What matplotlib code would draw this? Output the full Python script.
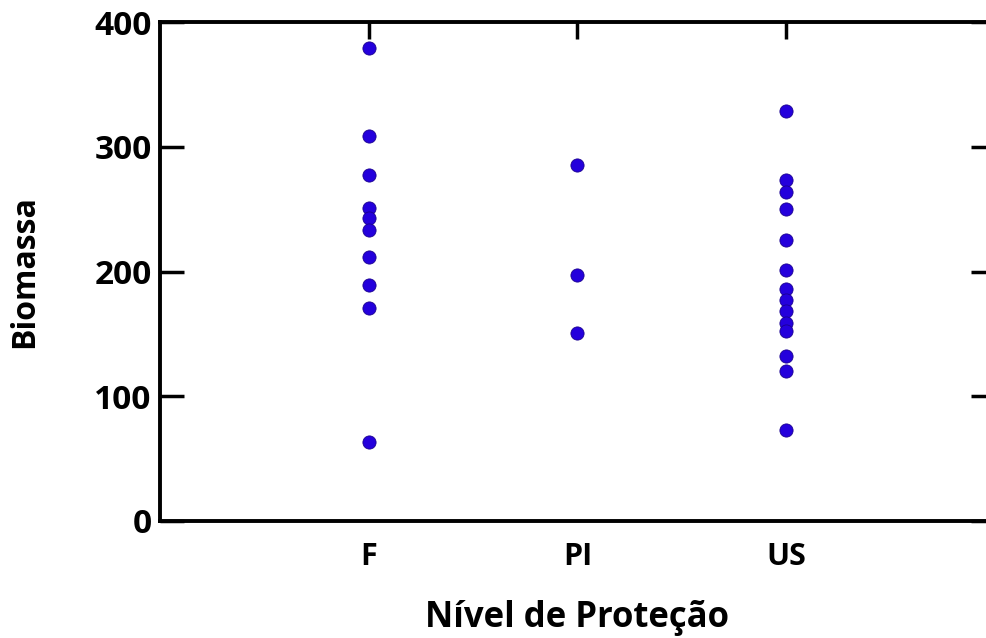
import matplotlib.pyplot as plt

# biomass per protection level
categories = ["F", "PI", "US"]
biomassa_f = [379, 309, 277, 251, 243, 233, 212, 189, 171, 63]
biomassa_pi = [285, 197, 151]
biomassa_us = [329, 273, 264, 250, 225, 201, 186, 177, 168, 159, 152, 132, 120, 73]
y_ticks = [0, 100, 200, 300, 400]

groups = [biomassa_f, biomassa_pi, biomassa_us]

plt.rcParams['font.family'] = ['Open Sans', 'DejaVu Sans']

fig = plt.figure(figsize=(9.87, 6.38), dpi=100)
ax = fig.add_axes([0.162, 0.1834, 0.846, 0.7821])

for i, vals in enumerate(groups, start=1):
    ax.scatter([i] * len(vals), vals, s=90, color="#2400dc",
               edgecolor="#1a0090", linewidth=0.6, zorder=3, clip_on=False)

ax.set_xlim(0, 4)
ax.set_ylim(0, 400)
ax.set_xticks([1, 2, 3])
ax.set_xticklabels(categories, fontsize=22, fontweight="bold")
ax.set_yticks(y_ticks)
ax.set_yticklabels([str(v) for v in y_ticks], fontsize=24, fontweight="bold")

for s in ax.spines.values():
    s.set_linewidth(2.8)

ax.tick_params(axis="y", direction="in", length=17, width=2.5,
               left=True, right=True, pad=6)
ax.tick_params(axis="x", direction="in", length=12, width=2.5,
               top=True, bottom=False, pad=15)

ax.set_xlabel("Nível de Proteção", fontsize=25, fontweight="bold", labelpad=20)
ax.set_ylabel("Biomassa", fontsize=23, fontweight="bold", labelpad=38)

fig.savefig("out.png", dpi=100)
